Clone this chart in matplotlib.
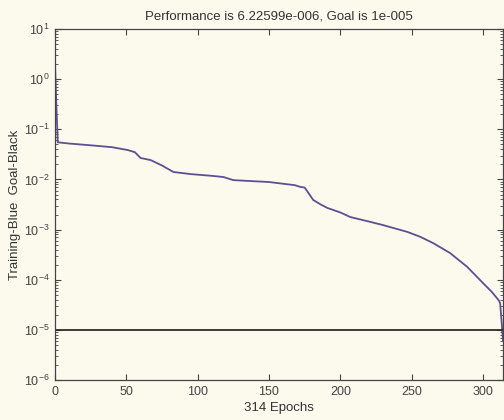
import numpy as np
import matplotlib
matplotlib.use("Agg")
import matplotlib.pyplot as plt
from matplotlib.ticker import LogLocator, NullFormatter

# training performance (epoch, mse)
epochs = [0, 1, 2, 10, 25, 40, 51, 56, 60, 67, 75, 83, 95, 110, 118, 125,
          140, 150, 160, 168, 172, 175, 178, 181, 186, 191, 200, 207, 220,
          230, 247, 256, 265, 277, 289, 300, 306, 311, 312, 313, 314]
perf = [2.2, 0.3, 0.055, 0.052, 0.048, 0.044, 0.0386, 0.035, 0.0268, 0.0244,
        0.019, 0.0141, 0.0128, 0.0118, 0.0112, 0.0097, 0.0092, 0.0089,
        0.0082, 0.0077, 0.0071, 0.0069, 0.0052, 0.0039, 0.0032, 0.0027,
        0.0022, 0.00178, 0.00145, 0.00123, 0.00090, 0.00072, 0.00054,
        0.00034, 0.00018, 8.6e-5, 5.8e-5, 3.9e-5, 3.4e-5, 1.5e-5, 6.22599e-6]
goal = 1e-5
n_epochs = 314

bg = "#fcfaec"
plt.rcParams["font.family"] = ["Liberation Sans", "DejaVu Sans"]

fig = plt.figure(figsize=(5.04, 4.2), dpi=100, facecolor=bg)
ax = fig.add_axes([0.109, 0.095, 0.889, 0.836], facecolor=bg)

ax.semilogy(epochs, perf, color="#5d4f93", lw=1.3)
ax.axhline(goal, color="#2b2b2b", lw=1.3)

ax.set_xlim(0, n_epochs)
ax.set_ylim(1e-6, 10)
ax.set_xticks([0, 50, 100, 150, 200, 250, 300])
ax.yaxis.set_minor_locator(LogLocator(base=10, subs=np.arange(2, 10)))
ax.yaxis.set_minor_formatter(NullFormatter())
ax.tick_params(which="both", direction="in", top=True, right=True,
               colors="#444444", labelsize=9)
ax.tick_params(which="major", length=4, pad=4)
ax.tick_params(which="minor", length=2)
for s in ax.spines.values():
    s.set_color("#444444")
    s.set_linewidth(0.9)

ax.set_title("Performance is 6.22599e-006, Goal is 1e-005",
             fontsize=9.5, color="#333333", pad=7)
ax.set_xlabel("314 Epochs", fontsize=9.5, color="#333333", labelpad=3)
ax.set_ylabel("Training-Blue  Goal-Black", fontsize=9.5, color="#333333",
              labelpad=2)

fig.savefig("out.png", dpi=100, facecolor=bg)
